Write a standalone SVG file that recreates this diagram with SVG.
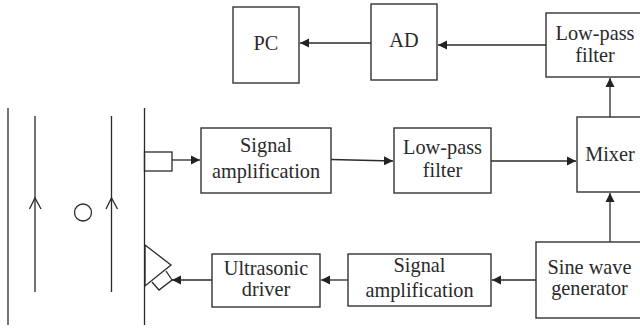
<svg xmlns="http://www.w3.org/2000/svg" width="640" height="330" viewBox="0 0 640 330">
<style>
.b{fill:#fff;stroke:#333;stroke-width:1.4}
.l{fill:none;stroke:#2a2a2a;stroke-width:1.3}
.c{fill:none;stroke:#2a2a2a;stroke-width:1.3;marker-end:url(#a)}
text{font-family:"Liberation Serif","Times New Roman",serif;font-size:20.300px;fill:#2a2a2a;text-anchor:middle}
</style>
<defs><marker id="a" markerUnits="userSpaceOnUse" markerWidth="10" markerHeight="10" refX="9" refY="5" orient="auto"><path d="M0 0.5L9 5L0 9.500Z" fill="#222"/></marker></defs>
<rect width="640" height="330" fill="#fff"/>
<g id="connectors">
<path class="c" d="M371 43H300"/>
<path class="c" d="M546 45H438"/>
<path class="c" d="M610 117V78"/>
<path class="c" d="M172 160H200"/>
<path class="c" d="M331 159.500L393 161"/>
<path class="c" d="M491 161H576"/>
<path class="c" d="M610 242V193"/>
<path class="c" d="M536 280H492"/>
<path class="c" d="M348 280H321"/>
<path class="c" d="M212 280H172"/>
</g>
<g id="pc"><rect class="b" x="233" y="7" width="66" height="76"/><text x="266" y="50">PC</text></g>
<g id="ad"><rect class="b" x="371" y="4" width="66" height="76"/><text x="404" y="47">AD</text></g>
<g id="lowpass-top"><rect class="b" x="546" y="13" width="100" height="64"/><text x="595" y="39.500">Low-pass</text><text x="595" y="62">filter</text></g>
<g id="mixer"><rect class="b" x="577" y="117" width="70" height="75"/><text x="610" y="161">Mixer</text></g>
<g id="lowpass-mid"><rect class="b" x="394" y="128" width="97" height="65"/><text x="442.500" y="154">Low-pass</text><text x="442.500" y="177">filter</text></g>
<g id="signal-top"><rect class="b" x="201" y="128" width="130" height="65"/><text x="266" y="152">Signal</text><text x="266" y="178">amplification</text></g>
<g id="ultrasonic"><rect class="b" x="212" y="254" width="108" height="53"/><text x="266" y="275">Ultrasonic</text><text x="266" y="296">driver</text></g>
<g id="signal-bottom"><rect class="b" x="348" y="254" width="143" height="52"/><text x="419.500" y="272">Signal</text><text x="419.500" y="297">amplification</text></g>
<g id="sine"><rect class="b" x="536" y="242" width="110" height="76"/><text x="589.500" y="274">Sine wave</text><text x="589.500" y="295">generator</text></g>
<g id="channel">
<path class="l" d="M8 108V325M35 116V292M111.500 116V292M144.500 108V325"/>
<path class="l" d="M29.500 209L35 198L41 209M106 209L111.500 198L117.500 209"/>
<circle class="l" cx="83" cy="212.500" r="8.500"/>
</g>
<g id="receiver"><rect class="l" x="144.500" y="152" width="27.500" height="19"/></g>
<g id="transmitter">
<path class="l" d="M145 245L171 265L145 286Z"/>
<path class="l" d="M152 282L159 290L172 280L166 271"/>
</g>
</svg>
